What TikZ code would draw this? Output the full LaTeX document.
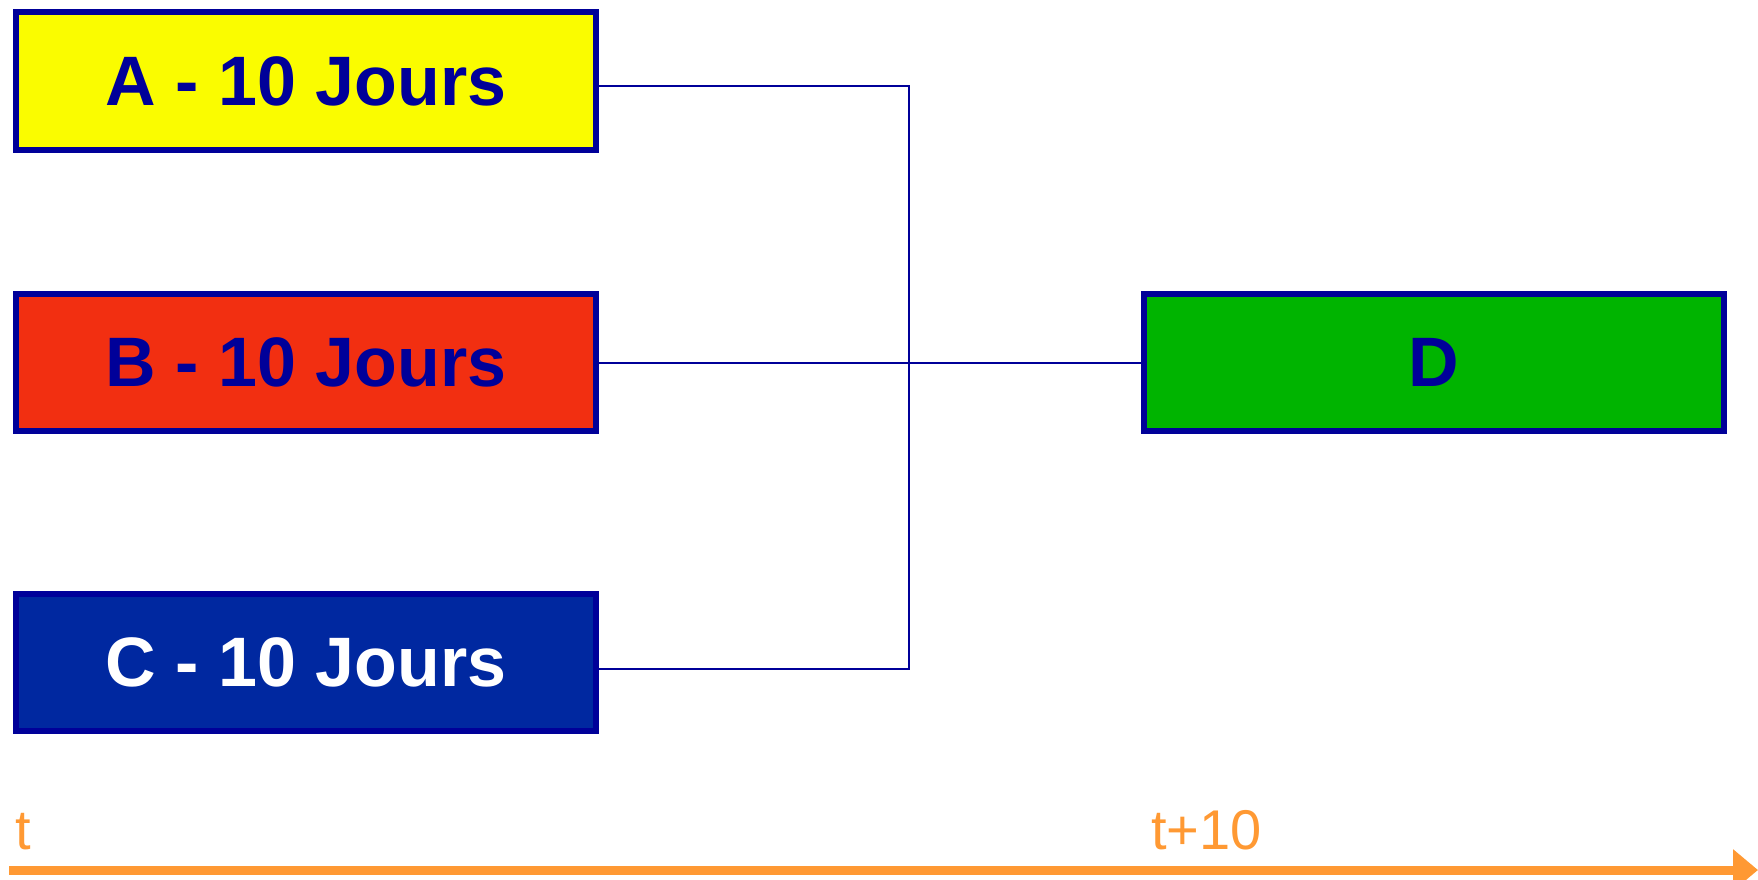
\documentclass[tikz,border=0pt]{standalone}
\usepackage{fontspec}
\setmainfont{Liberation Sans}
\usetikzlibrary{arrows.meta,calc}
\definecolor{navy}{RGB}{0,0,153}
\definecolor{boxyellow}{RGB}{250,252,0}
\definecolor{boxred}{RGB}{242,47,17}
\definecolor{boxblue}{RGB}{0,40,160}
\definecolor{boxgreen}{RGB}{0,180,0}
\definecolor{axisorange}{RGB}{255,153,51}
\tikzset{
  task/.style={draw=navy, line width=6pt, rectangle, minimum width=580pt, minimum height=137pt,
    inner sep=0pt, font=\fontsize{70}{84}\selectfont\bfseries, text=navy},
  link/.style={draw=navy, line width=2.4pt},
  timelabel/.style={anchor=base west, inner sep=0pt, text=axisorange, font=\fontsize{56}{66}\selectfont},
  axis/.style={draw=axisorange, line width=9pt, -{Triangle[length=25pt,width=40pt]}}
}
\begin{document}
\begin{tikzpicture}[x=1pt,y=-1pt]
\useasboundingbox (0,0) rectangle (1758,880);
\node[task, fill=boxyellow] (a) at (306,81) {A - 10 Jours};
\node[task, fill=boxred] (b) at (306,362) {B - 10 Jours};
\node[task, fill=boxblue, text=white] (c) at (306,662) {C - 10 Jours};
\node[task, fill=boxgreen] (d) at (1434,362) {D};
\coordinate (j1) at (909,86);
\coordinate (j2) at (909,669);
\draw[link] (a.east |- j1) -- (j1) -- (j2) -- (c.east |- j2);
\draw[link] ($(b.east)+(0,1)$) -- ($(d.west)+(0,1)$);
\coordinate (ax0) at (9,870);
\coordinate (ax1) at (1758,870);
\draw[axis] (ax0) -- (ax1);
\node[timelabel] (t0) at (15,849) {t};
\node[timelabel] (t10) at (1151,849) {t+10};
\end{tikzpicture}
\end{document}
